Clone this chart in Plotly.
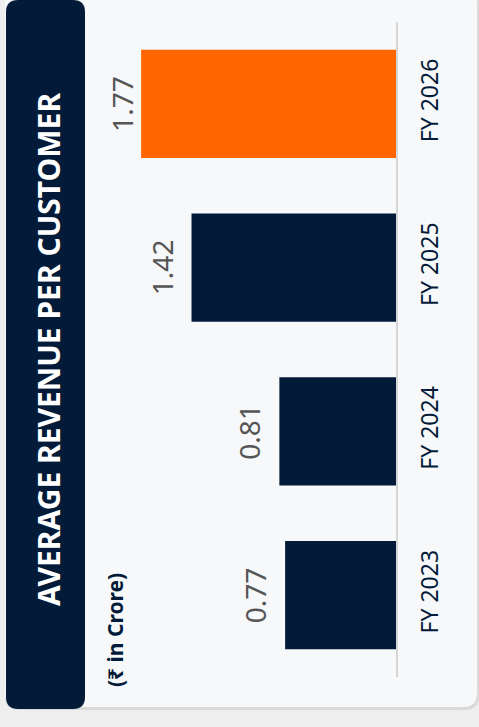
import plotly.graph_objects as go

categories = ["FY 2023", "FY 2024", "FY 2025", "FY 2026"]
values = [0.77, 0.81, 1.42, 1.77]
value_labels = ["0.77", "0.81", "1.42", "1.77"]
bar_colors = ["#031a38", "#031a38", "#031a38", "#ff6600"]
title_text = "AVERAGE REVENUE PER CUSTOMER"
unit_text = "(₹ in Crore)"

WIDTH, HEIGHT = 479, 727
ML, MR, MT, MB = 112, 83, 22, 50
PW = WIDTH - ML - MR
PH = HEIGHT - MT - MB
PX_PER_UNIT = 144.0
XMAX = PW / PX_PER_UNIT
LABEL_GAP = 30     # px from bar end to label centre
LABEL_HALF = 10    # px half-thickness of rotated label


def px(x):
    return (x - ML) / PW


def py(y):
    return (HEIGHT - MB - y) / PH


def rrect(x0, y0, x1, y1, r):
    pts = [
        f"M {px(x0 + r)},{py(y0)}",
        f"L {px(x1 - r)},{py(y0)}",
        f"Q {px(x1)},{py(y0)} {px(x1)},{py(y0 + r)}",
        f"L {px(x1)},{py(y1 - r)}",
        f"Q {px(x1)},{py(y1)} {px(x1 - r)},{py(y1)}",
        f"L {px(x0 + r)},{py(y1)}",
        f"Q {px(x0)},{py(y1)} {px(x0)},{py(y1 - r)}",
        f"L {px(x0)},{py(y0 + r)}",
        f"Q {px(x0)},{py(y0)} {px(x0 + r)},{py(y0)}",
        "Z",
    ]
    return " ".join(pts)


FONT = "Noto Sans, Open Sans, sans-serif"

fig = go.Figure()
fig.add_trace(go.Bar(
    x=values,
    y=categories,
    orientation="h",
    marker=dict(color=bar_colors, line=dict(width=0)),
    width=0.66,
    hoverinfo="skip",
))

shapes = [
    dict(type="path", xref="paper", yref="paper", layer="below",
         path=rrect(5, -12, 479, 710, 14), fillcolor="#dadada", line=dict(width=0)),
    dict(type="path", xref="paper", yref="paper", layer="below",
         path=rrect(5, -12, 477, 707, 14), fillcolor="#f7f8fa", line=dict(width=0)),
    dict(type="path", xref="paper", yref="paper", layer="below",
         path=rrect(6, 0, 85, 709, 12), fillcolor="#031a38", line=dict(width=0)),
]

annotations = [
    dict(text=f"<b>{title_text}</b>", xref="paper", yref="paper",
         x=px(48), y=py(350), textangle=-90, showarrow=False,
         font=dict(family=FONT, size=30, color="#ffffff"),
         xanchor="center", yanchor="middle"),
    dict(text=f"<b>{unit_text}</b>", xref="paper", yref="paper",
         x=px(115), y=py(630), textangle=-90, showarrow=False,
         font=dict(family=FONT, size=21, color="#031a38"),
         xanchor="center", yanchor="middle"),
]

# value labels outside the bars, kept inside the plot area
for v, lab, cat in zip(values, value_labels, categories):
    room = (XMAX - v) * PX_PER_UNIT - LABEL_HALF
    shift = min(LABEL_GAP, room)
    annotations.append(dict(
        text=lab, xref="x", yref="y", x=v, y=cat, xshift=-shift,
        textangle=-90, showarrow=False,
        font=dict(family=FONT, size=28, color="#555555"),
        xanchor="center", yanchor="middle",
    ))

fig.update_layout(
    width=WIDTH, height=HEIGHT,
    margin=dict(l=ML, r=MR, t=MT, b=MB, pad=0),
    paper_bgcolor="#eeeeee",
    plot_bgcolor="rgba(0,0,0,0)",
    showlegend=False,
    shapes=shapes,
    annotations=annotations,
    xaxis=dict(range=[XMAX, 0], visible=False, fixedrange=True),
    yaxis=dict(
        side="right",
        showline=True, linecolor="#d6d6d6", linewidth=2,
        showgrid=False, zeroline=False,
        ticks="", tickangle=-90,
        ticklabelstandoff=12,
        tickfont=dict(family=FONT, size=23, color="#031a38"),
        categoryorder="array", categoryarray=categories,
        range=[-0.5, 3.5],
        fixedrange=True,
    ),
)

fig.write_html(
    "out.html",
    config={"displayModeBar": False},
    post_script="document.body.style.margin='0';document.body.style.background='#eeeeee';",
)
